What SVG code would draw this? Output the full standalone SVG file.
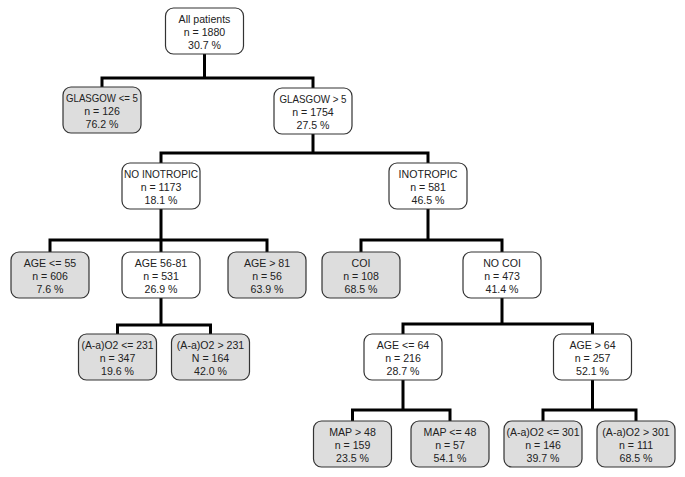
<svg xmlns="http://www.w3.org/2000/svg" width="685" height="477" viewBox="0 0 685 477">
<style>
.b{stroke:#333;stroke-width:1.2;fill:#fff}
.t{fill:#ddd}
text{font-family:"Liberation Sans",Arial,sans-serif;font-size:10.6px;fill:#222;text-anchor:middle}
.c{fill:none;stroke:#000;stroke-width:3;stroke-linejoin:miter;stroke-linecap:square}
</style>
<defs>
<rect id="bx" x="-39" y="0" width="78" height="46" rx="8" ry="8"/>
</defs>
<rect width="685" height="477" fill="#fff"/>
<g id="connectors">
<path class="c" d="M204.5,54V78M102,87V78H313V88"/>
<path class="c" d="M313,134V153M161,163V153H428V163"/>
<path class="c" d="M161,209V240M50,252V240H267V252M161,240V252"/>
<path class="c" d="M428,209V240M361,252V240H502V252"/>
<path class="c" d="M161,298V325M117.5,334V325H210.5V334"/>
<path class="c" d="M502,298V324M403,334V324H592.5V334"/>
<path class="c" d="M403,380V410M352.5,421V410H450V421"/>
<path class="c" d="M592.5,380V410M543,421V410H636V421"/>
</g>
<g id="root" transform="translate(204.5,8)"><use href="#bx" class="b"/><text y="15">All patients</text><text y="28">n = 1880</text><text y="41">30.7 %</text></g>
<g id="glasgow_le5" transform="translate(102,87)"><use href="#bx" class="b t"/><text y="15" textLength="72" lengthAdjust="spacingAndGlyphs">GLASGOW &lt;= 5</text><text y="28">n = 126</text><text y="41">76.2 %</text></g>
<g id="glasgow_gt5" transform="translate(313,88)"><use href="#bx" class="b"/><text y="15" textLength="67" lengthAdjust="spacingAndGlyphs">GLASGOW &gt; 5</text><text y="28">n = 1754</text><text y="41">27.5 %</text></g>
<g id="no_inotropic" transform="translate(161,163)"><use href="#bx" class="b"/><text y="15" textLength="74" lengthAdjust="spacingAndGlyphs">NO INOTROPIC</text><text y="28">n = 1173</text><text y="41">18.1 %</text></g>
<g id="inotropic" transform="translate(428,163)"><use href="#bx" class="b"/><text y="15">INOTROPIC</text><text y="28">n = 581</text><text y="41">46.5 %</text></g>
<g id="age_le55" transform="translate(50,252)"><use href="#bx" class="b t"/><text y="15">AGE &lt;= 55</text><text y="28">n = 606</text><text y="41">7.6 %</text></g>
<g id="age_56_81" transform="translate(161,252)"><use href="#bx" class="b"/><text y="15">AGE 56-81</text><text y="28">n = 531</text><text y="41">26.9 %</text></g>
<g id="age_gt81" transform="translate(267,252)"><use href="#bx" class="b t"/><text y="15">AGE &gt; 81</text><text y="28">n = 56</text><text y="41">63.9 %</text></g>
<g id="coi" transform="translate(361,252)"><use href="#bx" class="b t"/><text y="15">COI</text><text y="28">n = 108</text><text y="41">68.5 %</text></g>
<g id="no_coi" transform="translate(502,252)"><use href="#bx" class="b"/><text y="15">NO COI</text><text y="28">n = 473</text><text y="41">41.4 %</text></g>
<g id="aao2_le231" transform="translate(117.5,334)"><use href="#bx" class="b t"/><text y="15" textLength="72" lengthAdjust="spacingAndGlyphs">(A-a)O2 &lt;= 231</text><text y="28">n = 347</text><text y="41">19.6 %</text></g>
<g id="aao2_gt231" transform="translate(210.5,334)"><use href="#bx" class="b t"/><text y="15">(A-a)O2 &gt; 231</text><text y="28">N = 164</text><text y="41">42.0 %</text></g>
<g id="age_le64" transform="translate(403,334)"><use href="#bx" class="b"/><text y="15">AGE &lt;= 64</text><text y="28">n = 216</text><text y="41">28.7 %</text></g>
<g id="age_gt64" transform="translate(592.5,334)"><use href="#bx" class="b"/><text y="15">AGE &gt; 64</text><text y="28">n = 257</text><text y="41">52.1 %</text></g>
<g id="map_gt48" transform="translate(352.5,421)"><use href="#bx" class="b t"/><text y="15">MAP &gt; 48</text><text y="28">n = 159</text><text y="41">23.5 %</text></g>
<g id="map_le48" transform="translate(450,421)"><use href="#bx" class="b t"/><text y="15">MAP &lt;= 48</text><text y="28">n = 57</text><text y="41">54.1 %</text></g>
<g id="aao2_le301" transform="translate(543,421)"><use href="#bx" class="b t"/><text y="15" textLength="73" lengthAdjust="spacingAndGlyphs">(A-a)O2 &lt;= 301</text><text y="28">n = 146</text><text y="41">39.7 %</text></g>
<g id="aao2_gt301" transform="translate(636,421)"><use href="#bx" class="b t"/><text y="15">(A-a)O2 &gt; 301</text><text y="28">n = 111</text><text y="41">68.5 %</text></g>
</svg>
